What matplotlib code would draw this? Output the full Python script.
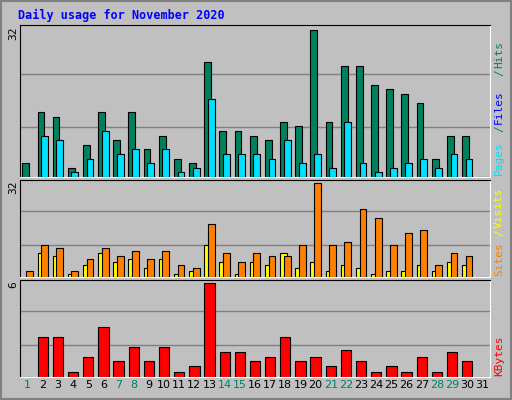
import numpy as np
import matplotlib.pyplot as plt
from matplotlib.patches import Rectangle

days = list(range(1, 32))
weekend = [1, 7, 8, 14, 15, 21, 22, 28, 29]
hits = [3, 14, 13, 2, 7, 14, 8, 14, 6, 9, 4, 3, 25, 10, 10, 9, 8, 12, 11, 32, 12, 24, 24, 20, 19, 18, 16, 4, 9, 9, 0]
files = [0, 9, 8, 1, 4, 10, 5, 6, 3, 6, 1, 2, 17, 5, 5, 5, 4, 8, 3, 5, 2, 12, 3, 1, 2, 3, 4, 2, 5, 4, 0]
pages = [0, 0, 0, 0, 0, 0, 0, 0, 0, 0, 0, 0, 3, 0, 0, 0, 0, 0, 0, 0, 0, 1, 0, 0, 0, 0, 0, 0, 0, 0, 0]
visits = [0, 8, 7, 1, 4, 8, 5, 6, 3, 6, 1, 2, 11, 5, 1, 5, 4, 8, 3, 5, 2, 4, 3, 1, 2, 2, 4, 2, 5, 4, 0]
sites = [2, 11, 10, 2, 6, 10, 7, 9, 6, 9, 4, 3, 18, 8, 5, 8, 7, 7, 11, 32, 11, 12, 23, 20, 11, 15, 16, 4, 8, 7, 0]
kbytes = [0, 2.52, 2.52, 0.35, 1.27, 3.17, 1.0, 1.93, 1.0, 1.93, 0.35, 0.68, 6.0, 1.6, 1.6, 1.0, 1.27, 2.58,
          1.0, 1.27, 0.68, 1.73, 1.0, 0.35, 0.68, 0.35, 1.27, 0.35, 1.6, 1.0, 0]

W, H = 512, 400
fig = plt.figure(figsize=(W / 100, H / 100), dpi=100)
fig.patch.set_facecolor("#C0C0C0")
mono = "DejaVu Sans Mono"

# outer bevel border
fig.add_artist(Rectangle((0, 0), 1, 1, transform=fig.transFigure, fill=False, ec="#808080", lw=3))


def make_ax(top, bottom, ymax):
    ax = fig.add_axes([20 / W, 1 - bottom / H, 470 / W, (bottom - top) / H])
    ax.set_facecolor("#C0C0C0")
    ax.set_xlim(0.5, 31.5)
    top_val = ymax / 0.97
    ax.set_ylim(0, top_val)
    for f in (0.33, 0.68):
        ax.axhline(f * top_val, color="#808080", lw=1, zorder=0)
    ax.set_xticks([])
    ax.set_yticks([])
    for s in ax.spines.values():
        s.set_color("black")
    ax.spines["right"].set_color("white")
    ax.spines["bottom"].set_color("white")
    return ax


def side(y, s, color):
    fig.text(499 / W, 1 - y / H, s, color=color, rotation=90, ha="center", va="bottom", fontsize=8, family=mono)


x = np.array(days)

ax1 = make_ax(25, 177, 32)
ax1.bar(x - 0.12, hits, width=0.45, color="#00805F", ec="black", lw=0.8, zorder=2)
ax1.bar(x + 0.25, pages, width=0.1, color="#0000FF", ec="black", lw=0.5, zorder=2)
ax1.bar(x + 0.12, files, width=0.45, color="#00E0FF", ec="black", lw=0.8, zorder=3)
fig.text(8 / W, 1 - 33 / H, "32", rotation=90, ha="left", va="center", fontsize=8, family=mono)
fig.text(18 / W, 1 - 15 / H, "Daily usage for November 2020", color="#0000FF", fontsize=8.5,
         fontweight="bold", family=mono, va="center")
side(175, "Pages", "#00E0FF")
side(132, "/", "#00805F")
side(124, "Files", "#0000FF")
side(76, "/", "#00805F")
side(68, "Hits", "#00805F")

ax2 = make_ax(180, 277, 32)
ax2.bar(x - 0.12, visits, width=0.45, color="#FFFF00", ec="black", lw=0.8, zorder=2)
ax2.bar(x + 0.12, sites, width=0.45, color="#FF8000", ec="black", lw=0.8, zorder=3)
fig.text(8 / W, 1 - 187 / H, "32", rotation=90, ha="left", va="center", fontsize=8, family=mono)
side(276, "Sites", "#FF8000")
side(236, "/", "#FFFF00")
side(228, "Visits", "#FFFF00")

ax3 = make_ax(280, 377, 6)
ax3.bar(x, kbytes, width=0.68, color="#FF0000", ec="black", lw=0.8, zorder=2)
fig.text(8 / W, 1 - 285 / H, "6", rotation=90, ha="left", va="center", fontsize=8, family=mono)
side(376, "KBytes", "#FF0000")

for d in days:
    ax3.text(d, -0.03, str(d), transform=ax3.get_xaxis_transform(), ha="center", va="top",
             fontsize=8, color="#00805F" if d in weekend else "black")

fig.savefig("out.png", dpi=100, facecolor=fig.get_facecolor())
